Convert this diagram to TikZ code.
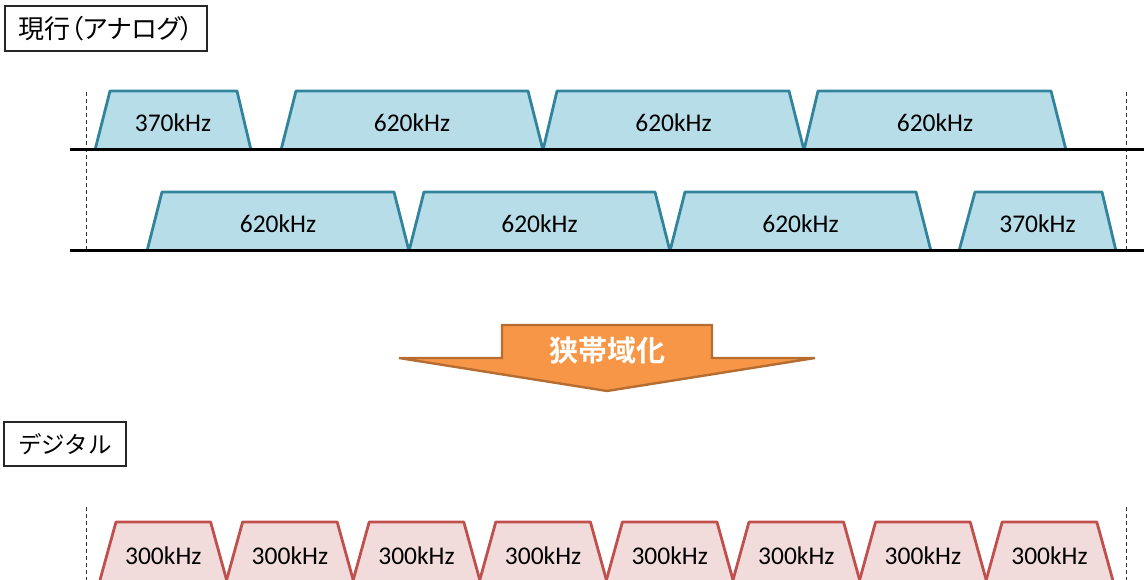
\documentclass[tikz,border=0pt]{standalone}
\usepackage{fontspec}
\setmainfont{Carlito}
\newfontfamily\jpfont{Noto Sans CJK JP}
\newfontfamily\jpprop[RawFeature=+palt]{Noto Sans CJK JP}
\newfontfamily\jpbold{Noto Sans CJK JP Bold}
\definecolor{bluefill}{HTML}{B7DDE8}
\definecolor{blueline}{HTML}{31849B}
\definecolor{pinkfill}{HTML}{F2DCDB}
\definecolor{pinkline}{HTML}{C0504D}
\definecolor{orangefill}{HTML}{F79646}
\definecolor{orangeline}{HTML}{B66D31}
\tikzset{
  bandA/.style={fill=bluefill},
  bandAedge/.style={draw=blueline,line width=2.8pt,line join=round},
  bandD/.style={fill=pinkfill},
  bandDedge/.style={draw=pinkline,line width=2.8pt,line join=round},
  freq/.style={font=\fontsize{25.5}{28}\selectfont,inner sep=0pt},
  baseline/.style={draw=black,line width=3pt},
  guide/.style={draw=black!80,line width=0.8pt,dash pattern=on 4pt off 3pt},
  titlebox/.style={draw=black!85,line width=1.2pt,fill=white,inner sep=0pt,
    minimum height=45pt},
  bigarrow/.style={fill=orangefill,draw=orangeline,line width=2.4pt,line join=miter},
}
% #1 style prefix, #2..#5 x coords (bottom-left, top-left, top-right, bottom-right), #6 top y, #7 bottom y, #8 label, #9 name
\newcommand\freqband[9]{%
  \fill[#1] (#2,#7) -- (#3,#6) -- (#4,#6) -- (#5,#7) -- cycle;
  \draw[#1edge] (#2,#7) -- (#3,#6) -- (#4,#6) -- (#5,#7);
  \node[freq] (#9) at ({(#2+#5)/2},{(#6+#7)/2+2}) {#8};
}
\begin{document}
\begin{tikzpicture}[x=1pt,y=-1pt]
\useasboundingbox (0,0) rectangle (1144,580);
\clip (0,0) rectangle (1144,580);

% title boxes
\node[titlebox,minimum width=202pt,font=\jpprop\fontsize{26}{28}\selectfont] (analog) at (106,28.5) {現行（アナログ）};
\node[titlebox,minimum width=122pt,minimum height=44pt,font=\jpfont\fontsize{23.5}{28}\selectfont] (digital) at (65,444) {デジタル};

% guides (dashed)
\coordinate (gA1) at (86,92);  \coordinate (gA2) at (86,251);
\coordinate (gB1) at (1126,92); \coordinate (gB2) at (1126,251);
\draw[guide] (gA1) -- (gA2);
\draw[guide] (gB1) -- (gB2);

% analog row 1
\freqband{bandA}{95}{110}{237}{251}{91}{150}{370kHz}{a1}
\freqband{bandA}{281}{296}{528}{543}{91}{150}{620kHz}{a2}
\freqband{bandA}{543}{557}{789}{804}{91}{150}{620kHz}{a3}
\freqband{bandA}{804}{818}{1051}{1066}{91}{150}{620kHz}{a4}
% analog row 2
\freqband{bandA}{147}{162}{394}{409}{192}{251}{620kHz}{b1}
\freqband{bandA}{409}{424}{655}{670}{192}{251}{620kHz}{b2}
\freqband{bandA}{670}{685}{916}{931}{192}{251}{620kHz}{b3}
\freqband{bandA}{959}{975}{1102}{1116}{192}{251}{370kHz}{b4}

% baselines
\coordinate (l1a) at (70,150); \coordinate (l1b) at (1144,150);
\coordinate (l2a) at (70,251); \coordinate (l2b) at (1144,251);
\draw[baseline] (l1a) -- (l1b);
\draw[baseline] (l2a) -- (l2b);

% arrow
\draw[bigarrow] (502,325) -- (712,325) -- (712,358) -- (815,358) -- (607,391) -- (399,358) -- (502,358) -- cycle;
\node[font=\jpbold\fontsize{29}{32}\selectfont,text=white,inner sep=0pt] (narrow) at (607,351) {狭帯域化};

% digital guides
\coordinate (gC1) at (86,507);  \coordinate (gC2) at (86,580);
\coordinate (gD1) at (1126,507); \coordinate (gD2) at (1126,580);
\draw[guide] (gC1) -- (gC2);
\draw[guide] (gD1) -- (gD2);

% digital bands
\foreach \i in {0,...,7}{
  \pgfmathsetmacro\xa{100+126.6*\i}
  \pgfmathsetmacro\xb{\xa+16}
  \pgfmathsetmacro\xc{\xa+110.6}
  \pgfmathsetmacro\xd{\xa+126.6}
  \fill[bandD] (\xa,580) -- (\xb,522) -- (\xc,522) -- (\xd,580) -- cycle;
  \draw[bandDedge] (\xa,580) -- (\xb,522) -- (\xc,522) -- (\xd,580);
  \node[freq] (d\i) at ({\xa+63.3},556) {300kHz};
}
\end{tikzpicture}
\end{document}
